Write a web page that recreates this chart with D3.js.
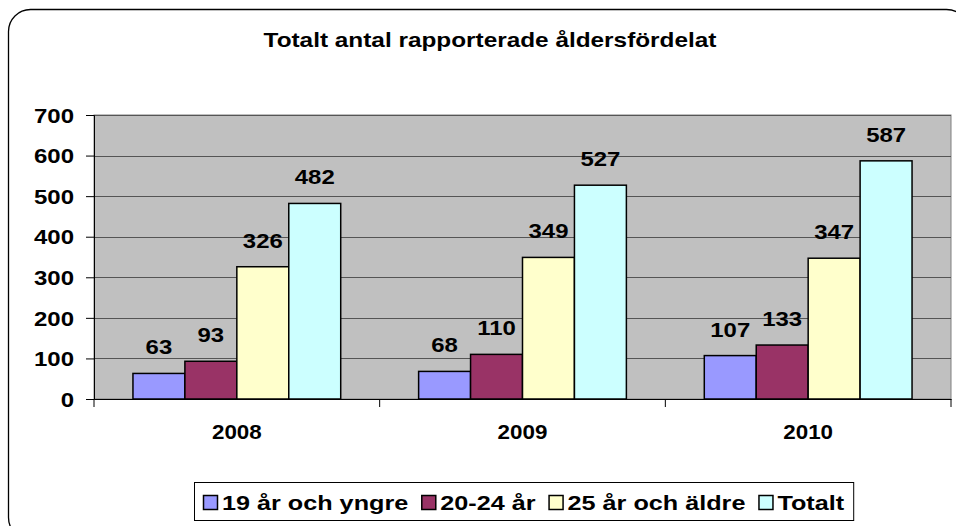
<!DOCTYPE html>
<html>
<head>
<meta charset="utf-8">
<script src="https://cdn.jsdelivr.net/npm/d3@7"></script>
<style>
  body { margin: 0; background: #fff; }
  text { font-family: "Liberation Sans", Arial, sans-serif; font-weight: bold; fill: #000; }
</style>
</head>
<body>
<div id="chart"></div>
<script>
var years = ['2008', '2009', '2010'];
var seriesNames = ['19 år och yngre', '20-24 år', '25 år och äldre', 'Totalt'];
var seriesColors = ['#9999FF', '#993366', '#FFFFCC', '#CCFFFF'];
var young = [63, 68, 107];
var mid = [93, 110, 133];
var old = [326, 349, 347];
var total = [482, 527, 587];
var yTicks = [0, 100, 200, 300, 400, 500, 600, 700];

var width = 956, height = 526;
var plot = { left: 94, top: 115, right: 951, bottom: 399 };

var svg = d3.select('#chart').append('svg')
  .attr('width', width)
  .attr('height', height);

// widen glyphs horizontally around the text's anchor point
function widen(sel, k) {
  sel.each(function () {
    var t = d3.select(this);
    var x = +t.attr('x') || 0, y = +t.attr('y') || 0;
    t.attr('x', 0).attr('y', 0)
      .attr('transform', 'translate(' + x + ',' + y + ') scale(' + k + ',1)');
  });
}

// outer chart border, rounded, partly clipped by the window
svg.append('rect')
  .attr('x', 8.5).attr('y', 9.5)
  .attr('width', 960).attr('height', 530)
  .attr('rx', 22).attr('ry', 22)
  .attr('fill', '#fff')
  .attr('stroke', '#000')
  .attr('stroke-width', 1.3);

svg.append('text')
  .attr('x', 490).attr('y', 47)
  .attr('text-anchor', 'middle')
  .attr('font-size', 21)
  .text('Totalt antal rapporterade åldersfördelat')
  .call(widen, 1.16);

var x0 = d3.scaleBand().domain(years).range([plot.left, plot.right]);
var bandPad = x0.bandwidth() * 78 / 286 / 2;
var x1 = d3.scaleBand().domain(seriesNames).range([bandPad, x0.bandwidth() - bandPad]);
var y = d3.scaleLinear().domain([0, 700]).range([plot.bottom, plot.top]);

// plot background
svg.append('rect')
  .attr('x', plot.left).attr('y', plot.top)
  .attr('width', plot.right - plot.left).attr('height', plot.bottom - plot.top)
  .attr('fill', '#C0C0C0')
  .attr('stroke', '#808080')
  .attr('stroke-width', 1);

// gridlines
svg.append('g').selectAll('line')
  .data(yTicks.slice(1))
  .enter().append('line')
  .attr('x1', plot.left).attr('x2', plot.right)
  .attr('y1', function (d) { return Math.round(y(d)) + 0.5; })
  .attr('y2', function (d) { return Math.round(y(d)) + 0.5; })
  .attr('stroke', '#555')
  .attr('stroke-width', 1);

var data = years.map(function (yr, i) {
  return { year: yr, values: [young[i], mid[i], old[i], total[i]] };
});

var groups = svg.append('g').selectAll('g')
  .data(data)
  .enter().append('g')
  .attr('transform', function (d) { return 'translate(' + x0(d.year) + ',0)'; });

groups.selectAll('rect')
  .data(function (d) { return d.values.map(function (v, i) { return { name: seriesNames[i], value: v, idx: i }; }); })
  .enter().append('rect')
  .attr('x', function (d) { return x1(d.name); })
  .attr('y', function (d) { return y(d.value); })
  .attr('width', x1.bandwidth())
  .attr('height', function (d) { return y(0) - y(d.value); })
  .attr('fill', function (d) { return seriesColors[d.idx]; })
  .attr('stroke', '#000')
  .attr('stroke-width', 1.5);

groups.selectAll('text')
  .data(function (d) { return d.values.map(function (v, i) { return { name: seriesNames[i], value: v }; }); })
  .enter().append('text')
  .attr('x', function (d) { return x1(d.name) + x1.bandwidth() / 2; })
  .attr('y', function (d) { return y(d.value) - 19; })
  .attr('text-anchor', 'middle')
  .attr('font-size', 21)
  .text(function (d) { return d.value; })
  .call(widen, 1.14);

// y axis
var yAxis = d3.axisLeft(y).tickValues(yTicks).tickSize(8).tickPadding(12);
var yg = svg.append('g')
  .attr('transform', 'translate(' + plot.left + ',0)')
  .call(yAxis);
yg.select('.domain').attr('stroke', '#000').attr('stroke-width', 1);
yg.selectAll('.tick line').attr('stroke', '#000');
yg.selectAll('.tick text').attr('font-size', 20).attr('font-family', null).attr('dy', '0.36em').call(widen, 1.2);

// x axis
var xAxis = d3.axisBottom(x0).tickSize(0).tickPadding(26);
var xg = svg.append('g')
  .attr('transform', 'translate(0,' + plot.bottom + ')')
  .call(xAxis);
xg.select('.domain').attr('stroke', '#000').attr('stroke-width', 1);
xg.selectAll('.tick text').attr('font-size', 20).attr('font-family', null).call(widen, 1.12);
xg.selectAll('.cat-tick')
  .data([plot.left, x0('2009'), x0('2010'), plot.right])
  .enter().append('line')
  .attr('class', 'cat-tick')
  .attr('x1', function (d) { return d; }).attr('x2', function (d) { return d; })
  .attr('y1', 0).attr('y2', 8)
  .attr('stroke', '#000');

// legend
var legend = svg.append('g');
var legendBox = legend.append('rect')
  .attr('x', 194.5).attr('y', 482.5)
  .attr('height', 38)
  .attr('fill', '#fff')
  .attr('stroke', '#000')
  .attr('stroke-width', 1);

var legendStretch = 1.2;
var lx = 203;
seriesNames.forEach(function (name, i) {
  legend.append('rect')
    .attr('x', lx + 0.5).attr('y', 495.5)
    .attr('width', 14).attr('height', 14)
    .attr('fill', seriesColors[i])
    .attr('stroke', '#000')
    .attr('stroke-width', 1.5);
  var t = legend.append('text')
    .attr('x', lx + 19).attr('y', 510)
    .attr('font-size', 21)
    .text(name);
  var w = t.node().getComputedTextLength() * legendStretch;
  t.call(widen, legendStretch);
  lx += 19 + w + 13;
});
legendBox.attr('width', lx - 194 - 4);
</script>
</body>
</html>
